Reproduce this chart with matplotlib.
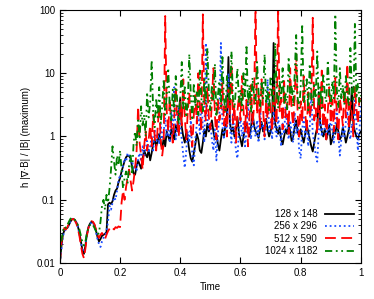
import numpy as np
import matplotlib
matplotlib.use("Agg")
import matplotlib.pyplot as plt

plt.rcParams['font.family'] = ['Liberation Sans', 'DejaVu Sans']

labels = ["128 x 148", "256 x 296", "512 x 590", "1024 x 1182"]

black = [0.010, 0.018, 0.028, 0.033, 0.035, 0.036, 0.040, 0.045, 0.049, 0.050,
         0.048, 0.044, 0.038, 0.030, 0.022, 0.016, 0.014, 0.019, 0.029, 0.037,
         0.042, 0.045, 0.044, 0.040, 0.033, 0.026, 0.022, 0.024, 0.027, 0.028,
         0.029, 0.031, 0.085, 0.090, 0.086, 0.095, 0.12, 0.14, 0.15, 0.19,
         0.22, 0.28, 0.34, 0.41, 0.47, 0.50, 0.49, 0.45, 0.33, 0.26,
         0.25, 0.34, 0.42, 0.36, 0.31, 0.45, 0.60, 0.52, 0.47, 0.62,
         0.42, 0.55, 0.75, 0.90, 0.70, 0.85, 1.1, 0.80, 0.65, 0.95,
         0.70, 1.2, 1.0, 0.85, 1.3, 1.1, 0.9, 1.5, 1.2, 2.5,
         4.0, 1.4, 1.0, 0.8, 1.2, 0.9, 0.6, 0.45, 0.40, 0.55,
         0.75, 1.1, 0.9, 0.6, 0.55, 0.8, 1.3, 1.0, 1.6, 1.2,
         1.4, 1.8, 1.2, 0.9, 1.1, 0.75, 0.6, 0.9, 1.3, 1.0,
         1.5, 2.2, 18, 1.6, 1.2, 1.4, 1.0, 1.3, 2.0, 1.1,
         0.9, 0.7, 1.0, 1.3, 1.6, 1.2, 1.0, 1.4, 2.4, 1.5,
         1.2, 1.1, 0.95, 1.3, 1.7, 1.2, 1.4, 1.9, 1.3, 1.0,
         1.2, 1.5, 30, 1.6, 1.3, 1.1, 1.4, 0.9, 0.75, 1.0,
         1.3, 1.1, 1.6, 1.2, 0.85, 1.0, 1.4, 1.8, 1.2, 1.0,
         1.3, 1.0, 0.8, 1.1, 1.5, 1.2, 0.9, 0.7, 0.58, 0.8,
         1.1, 1.4, 5.0, 1.6, 1.2, 1.0, 1.3, 0.9, 1.1, 1.5,
         0.75, 0.9, 1.3, 1.1, 1.6, 1.2, 0.9, 1.0, 1.4, 1.1,
         0.8, 1.0, 1.3, 2.0, 6.0, 1.5, 1.2, 1.0, 0.9, 1.1,
         1.2]

blue = [0.010, 0.016, 0.026, 0.032, 0.034, 0.036, 0.040, 0.046, 0.050, 0.050,
        0.047, 0.043, 0.037, 0.029, 0.021, 0.016, 0.015, 0.020, 0.028, 0.036,
        0.041, 0.044, 0.043, 0.038, 0.031, 0.024, 0.020, 0.018, 0.022, 0.025,
        0.027, 0.032, 0.045, 0.080, 0.070, 0.090, 0.11, 0.10, 0.14, 0.20,
        0.25, 0.22, 0.35, 0.45, 0.40, 0.55, 0.50, 0.38, 0.42, 0.30,
        0.35, 0.28, 0.45, 0.55, 0.40, 0.70, 0.50, 0.62, 0.85, 0.55,
        0.70, 1.0, 0.60, 1.3, 0.8, 1.1, 0.75, 1.6, 0.9, 1.2,
        2.0, 1.0, 1.4, 0.8, 2.5, 1.1, 6.0, 0.9, 1.3, 3.0,
        1.5, 0.9, 0.5, 0.32, 0.6, 1.2, 0.8, 1.8, 0.5, 0.35,
        0.9, 1.6, 2.4, 1.1, 3.5, 1.4, 0.8, 30, 2.0, 1.2,
        1.7, 0.9, 0.6, 1.3, 0.42, 1.1, 2.2, 30, 1.5, 0.9,
        1.8, 1.2, 10, 1.4, 0.8, 2.4, 1.1, 0.6, 0.45, 1.3,
        2.0, 1.0, 1.6, 0.7, 1.2, 3.5, 1.5, 0.9, 2.2, 1.3,
        1.0, 1.8, 0.8, 2.8, 1.3, 1.6, 0.9, 1.4, 8.0, 1.2,
        1.7, 0.9, 2.5, 1.3, 1.0, 2.0, 1.4, 0.7, 1.6, 1.1,
        3.0, 1.4, 0.9, 1.8, 1.2, 0.8, 2.4, 1.1, 1.5, 0.6,
        0.45, 1.3, 2.0, 1.0, 1.6, 0.7, 1.4, 5.0, 1.1, 0.8,
        0.5, 0.4, 1.2, 1.8, 1.0, 2.2, 1.3, 0.9, 1.6, 1.1,
        2.0, 1.2, 0.8, 1.5, 3.2, 1.1, 0.5, 0.9, 1.4, 1.0,
        1.7, 2.5, 1.2, 0.9, 1.6, 1.1, 4.0, 1.5, 0.6, 1.2,
        3.0]

red = [0.010, 0.020, 0.030, 0.036, 0.034, 0.037, 0.042, 0.046, 0.049, 0.050,
       0.047, 0.042, 0.035, 0.027, 0.019, 0.014, 0.012, 0.017, 0.027, 0.036,
       0.042, 0.046, 0.045, 0.041, 0.034, 0.028, 0.025, 0.028, 0.030, 0.027,
       0.024, 0.028, 0.032, 0.035, 0.038, 0.036, 0.034, 0.037, 0.036, 0.038,
       0.037, 0.09, 0.14, 0.10, 0.16, 0.22, 0.30, 0.20, 0.14, 0.20,
       0.32, 0.60, 3.0, 0.8, 0.5, 0.30, 0.7, 1.2, 0.6, 0.9,
       1.5, 0.7, 2.2, 1.0, 0.6, 1.4, 3.0, 0.9, 0.5, 0.8,
       80, 2.5, 1.2, 4.0, 1.5, 0.8, 2.0, 6.0, 1.8, 1.0,
       3.5, 1.5, 8.0, 2.0, 0.9, 2.5, 5.0, 1.4, 0.7, 2.2,
       4.5, 1.6, 10, 2.8, 1.2, 85, 3.0, 1.8, 6.0, 2.0,
       1.3, 3.5, 12, 2.2, 0.9, 4.0, 1.8, 2.5, 7.0, 1.5,
       3.0, 1.0, 5.5, 2.2, 14, 1.6, 3.2, 0.8, 2.5, 4.5,
       1.8, 9.0, 2.6, 1.2, 3.8, 0.7, 2.0, 6.5, 1.5, 3.0,
       120, 2.2, 4.5, 1.4, 8.0, 2.8, 1.0, 3.5, 1.9, 5.0,
       2.4, 1.2, 6.0, 3.0, 1.6, 120, 2.5, 4.0, 1.3, 7.5,
       2.0, 3.3, 1.1, 12, 2.6, 1.5, 4.2, 20, 2.2, 1.0,
       3.6, 1.7, 9.0, 2.4, 1.2, 5.0, 2.0, 3.0, 75, 1.8,
       2.8, 1.1, 4.5, 2.0, 11, 1.4, 3.2, 0.9, 2.5, 6.0,
       1.6, 3.8, 1.2, 8.5, 2.2, 0.9, 4.0, 2.6, 1.5, 5.5,
       2.0, 14, 1.3, 3.5, 2.2, 1.0, 6.0, 2.8, 1.6, 4.0,
       3.0]

green = [0.010, 0.022, 0.032, 0.038, 0.036, 0.040, 0.045, 0.050, 0.052, 0.051,
         0.048, 0.045, 0.040, 0.034, 0.027, 0.021, 0.019, 0.022, 0.030, 0.036,
         0.040, 0.042, 0.040, 0.036, 0.032, 0.028, 0.030, 0.045, 0.080, 0.10,
         0.07, 0.12, 0.09, 0.15, 0.30, 0.70, 0.40, 0.25, 0.50, 0.35,
         0.60, 0.30, 0.15, 0.22, 0.28, 0.18, 0.35, 0.50, 0.25, 0.80,
         1.2, 0.7, 1.8, 0.9, 3.0, 1.5, 2.2, 1.0, 5.0, 2.0,
         3.5, 16, 2.5, 1.4, 4.0, 2.0, 6.0, 1.6, 3.0, 8.0,
         2.2, 4.5, 12, 3.0, 1.8, 5.5, 2.5, 9.0, 3.5, 1.6,
         4.0, 15, 2.8, 6.0, 2.0, 3.5, 20, 4.5, 1.8, 7.0,
         3.0, 5.0, 2.2, 11, 4.0, 2.5, 8.0, 3.2, 25, 5.0,
         2.6, 6.5, 3.8, 14, 2.2, 4.5, 7.5, 3.0, 18, 4.0,
         2.5, 9.0, 5.0, 3.2, 22, 4.0, 2.8, 6.0, 12, 3.5,
         5.5, 2.6, 10, 4.0, 28, 3.0, 6.5, 2.4, 8.5, 4.5,
         3.2, 15, 5.0, 2.8, 7.0, 4.0, 20, 3.5, 6.0, 2.6,
         9.0, 4.2, 3.0, 30, 5.5, 2.8, 7.5, 4.0, 12, 3.2,
         5.0, 2.7, 18, 4.5, 6.5, 3.0, 9.5, 40, 4.0, 2.8,
         6.0, 60, 3.5, 5.0, 8.0, 2.6, 14, 4.2, 3.0, 7.0,
         4.0, 22, 3.2, 6.0, 2.8, 10, 4.5, 3.5, 16, 5.0,
         3.0, 7.5, 4.0, 85, 5.5, 2.8, 12, 4.0, 6.5, 3.2,
         9.0, 4.5, 3.0, 25, 5.0, 3.6, 60, 4.0, 7.0, 3.5,
         4.5]

series = [black, blue, red, green]
colors = ["#000000", "#1a4cff", "#ff0000", "#007f00"]
styles = [dict(linestyle="-"),
          dict(linestyle=(0, (1, 1.6))),
          dict(linestyle=(0, (6, 3))),
          dict(linestyle=(0, (4, 2, 1, 2, 1, 2)))]

fig = plt.figure(figsize=(3.74, 2.99), dpi=100)
ax = fig.add_axes([0.160, 0.120, 0.805, 0.847])

for vals, lab, c, st in zip(series, labels, colors, styles):
    t = np.linspace(0, 1, len(vals))
    ax.plot(t, vals, color=c, lw=1.3, label=lab, **st)

ax.set_yscale("log")
ax.set_xlim(0, 1)
ax.set_ylim(0.01, 100)
ax.set_xticks([0, 0.2, 0.4, 0.6, 0.8, 1])
ax.set_xticklabels(["0", "0.2", "0.4", "0.6", "0.8", "1"])
ax.set_yticks([0.01, 0.1, 1, 10, 100])
ax.set_yticklabels(["0.01", "0.1", "1", "10", "100"])
ax.tick_params(which="both", direction="in", top=True, right=True, labelsize=7)
ax.tick_params(which="major", length=4, width=0.8)
ax.tick_params(which="minor", length=2, width=0.6)
ax.tick_params(axis="x", which="minor", bottom=False, top=False)
for s in ax.spines.values():
    s.set_linewidth(0.8)

ax.set_xlabel("Time", fontsize=7, labelpad=3)
ax.set_ylabel("h |∇·B| / |B| (maximum)", fontsize=7, labelpad=4)

leg = ax.legend(loc="lower right", frameon=False, fontsize=7, markerfirst=False,
                handlelength=3.0, handletextpad=0.8, labelspacing=0.25,
                borderaxespad=0.3)

fig.savefig("out.png", dpi=100)
